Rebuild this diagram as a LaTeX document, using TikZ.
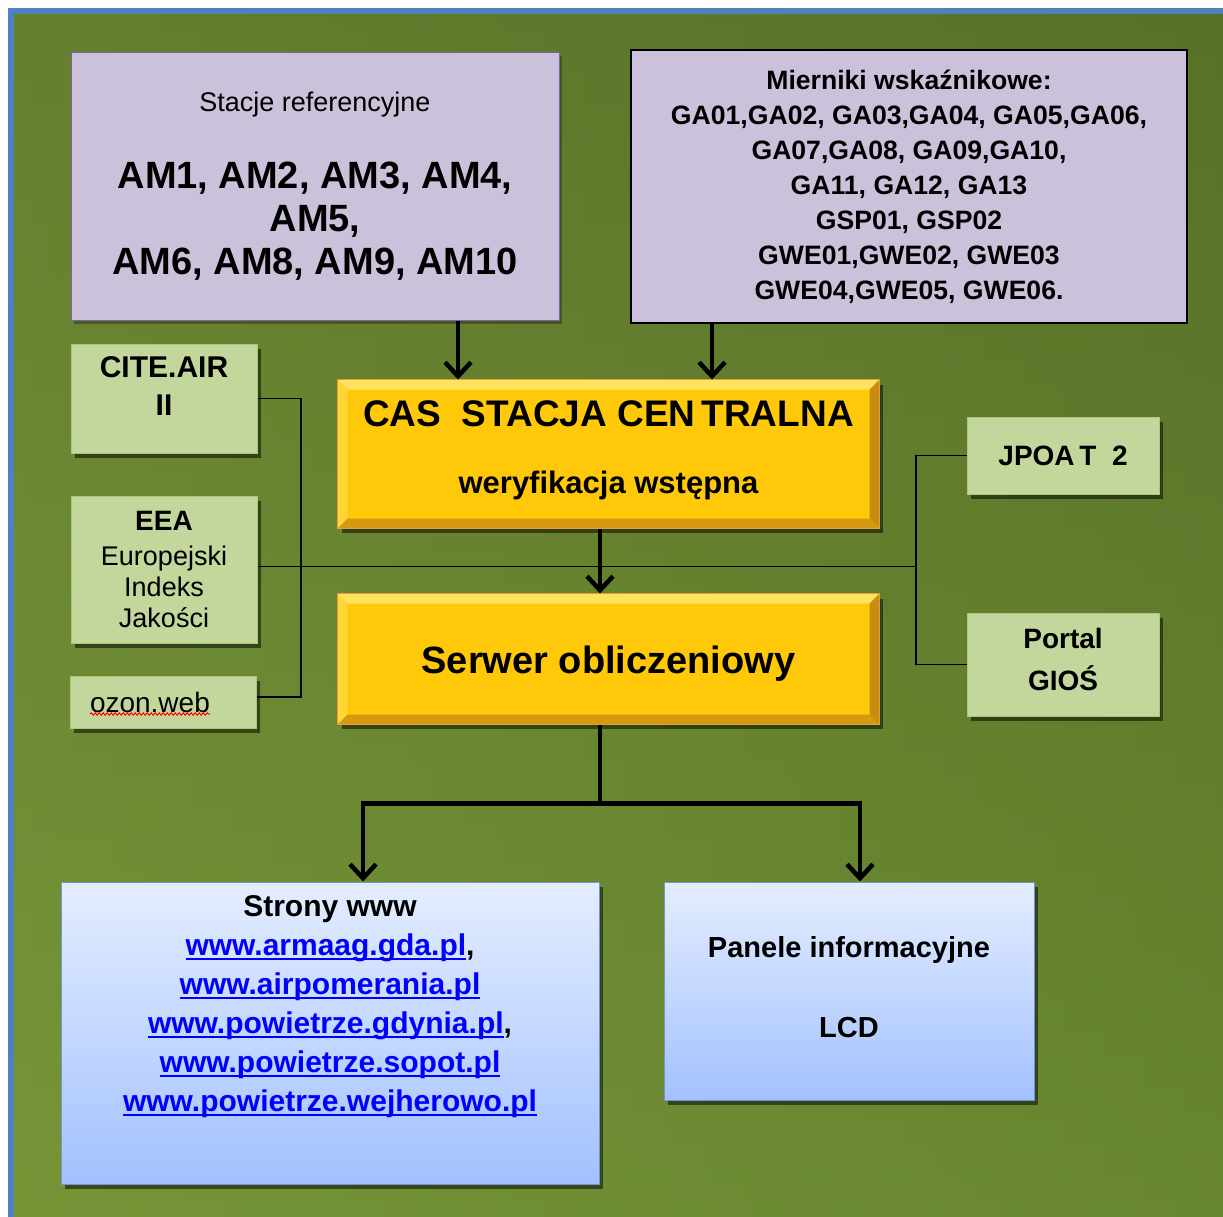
\documentclass[tikz,border=0pt]{standalone}
\usepackage{fontspec}
\setmainfont{Liberation Sans}
\usetikzlibrary{arrows.meta,shadows,decorations.pathmorphing,positioning}

\definecolor{frameblue}{HTML}{4F81BD}
\definecolor{bgleft}{HTML}{72903A}
\definecolor{bgright}{HTML}{55712A}
\definecolor{bgtop}{HTML}{5A7026}
\definecolor{bgbot}{HTML}{7A9C36}
\definecolor{lavender}{HTML}{CCC1DA}
\definecolor{lavline}{HTML}{8064A2}
\definecolor{palegreen}{HTML}{C3D69B}
\definecolor{paleline}{HTML}{ADC67A}
\definecolor{gold}{HTML}{FFC90A}
\definecolor{goldhi}{HTML}{FFE35C}
\definecolor{goldleft}{HTML}{FFD633}
\definecolor{goldlo}{HTML}{D69A12}
\definecolor{goldright}{HTML}{C88C10}
\definecolor{goldline}{HTML}{E0A040}
\definecolor{skytop}{HTML}{E4EDFF}
\definecolor{skybot}{HTML}{A3C1FF}
\definecolor{skyline}{HTML}{7098D0}
\definecolor{linkblue}{HTML}{0000FF}

\newcommand{\weblink}[1]{{\color{linkblue}\setbox0\hbox{#1}\rlap{\rule[-4pt]{\wd0}{2pt}}\box0}}
\newcommand{\bevel}[2][10]{%
  \fill[goldhi] (#2.north west) -- (#2.north east) -- ([shift={(-#1,#1)}]#2.north east) -- ([shift={(#1,#1)}]#2.north west) -- cycle;
  \fill[goldleft] (#2.north west) -- (#2.south west) -- ([shift={(#1,-#1)}]#2.south west) -- ([shift={(#1,#1)}]#2.north west) -- cycle;
  \fill[goldlo] (#2.south west) -- (#2.south east) -- ([shift={(-#1,-#1)}]#2.south east) -- ([shift={(#1,-#1)}]#2.south west) -- cycle;
  \fill[goldright] (#2.north east) -- (#2.south east) -- ([shift={(-#1,-#1)}]#2.south east) -- ([shift={(-#1,#1)}]#2.north east) -- cycle;
  \draw[goldline, line width=1pt] (#2.north west) rectangle (#2.south east);
}

\tikzset{
  box/.style={draw, line width=1pt, inner sep=0pt, align=center},
  lavbox/.style={box, fill=lavender},
  greenbox/.style={box, fill=palegreen, draw=paleline,
    drop shadow={shadow xshift=4pt, shadow yshift=-5pt, opacity=.5, fill=black}},
  goldbox/.style={box, fill=gold, draw=goldline,
    drop shadow={shadow xshift=4pt, shadow yshift=-5pt, opacity=.5, fill=black}},
  skybox/.style={box, top color=skytop, bottom color=skybot, draw=skyline,
    drop shadow={shadow xshift=4pt, shadow yshift=-5pt, opacity=.5, fill=black}},
  flow/.style={line width=4.5pt, -{Straight Barb[length=14pt, width=26pt]}},
  trunk/.style={line width=4.5pt},
  link/.style={line width=1.5pt},
}

\begin{document}
\begin{tikzpicture}[x=1pt, y=-1pt]
% frame and background
\useasboundingbox (0,0) rectangle (1223,1216);
\fill[white] (0,0) rectangle (1223,1216);
\begin{scope}
  \clip (0,0) rectangle (1223,1216);
  \shade[left color=bgleft, right color=bgright] (11,11) rectangle (1240,1240);
  \shade[top color=bgtop, bottom color=bgbot, opacity=.5] (11,11) rectangle (1240,1240);
  \draw[frameblue, line width=6pt] (11,11) rectangle (1240,1240);
\end{scope}

% sources
\node[lavbox, draw=lavline, drop shadow={shadow xshift=3pt, shadow yshift=-4pt, opacity=.3, fill=black},
  minimum width=488pt, minimum height=268pt, font=\fontsize{38}{43}\selectfont\bfseries] (stacje) at (315,186)
  {{\fontsize{27}{32}\selectfont\mdseries Stacje referencyjne}\\[34pt]
   AM1, AM2, AM3, AM4,\\AM5,\\AM6, AM8, AM9, AM10};
\node[lavbox, draw=black, line width=2.5pt, minimum width=556pt, minimum height=273pt,
  font=\fontsize{26.6}{35}\selectfont\bfseries] (mierniki) at (909,186.5)
  {Mierniki wskaźnikowe:\\GA01,GA02, GA03,GA04, GA05,GA06,\\GA07,GA08, GA09,GA10,\\GA11, GA12, GA13\\GSP01, GSP02\\GWE01,GWE02, GWE03\\GWE04,GWE05, GWE06.};

% central part
\node[goldbox, minimum width=541pt, minimum height=148pt, font=\fontsize{31}{36}\selectfont\bfseries] (cas) at (608.5,454)
  {{\fontsize{37}{40}\selectfont CAS\ \ STACJA CEN\,TRALNA}\\[31pt]weryfikacja wstępna\rule[-14pt]{0pt}{14pt}};
\node[goldbox, minimum width=541pt, minimum height=130pt, font=\fontsize{38}{44}\selectfont\bfseries] (serwer) at (608.5,659)
  {\rule{0pt}{36pt}Serwer obliczeniowy};
\bevel{cas}
\bevel{serwer}

% side boxes
\node[greenbox, minimum width=186pt, minimum height=109pt,
  label={[name=citetxt, anchor=north, yshift=-13pt, inner sep=0pt, align=center, font=\fontsize{30}{38}\selectfont\bfseries]north:{CITE.AIR\\II}}] (cite) at (164,398.5) {};
\node[greenbox, minimum width=186pt, minimum height=147pt, font=\fontsize{27}{31}\selectfont] (eea) at (164,569.5)
  {{\fontsize{28}{31}\selectfont\bfseries EEA}\\[4pt]Europejski\\Indeks\\Jakości};
\node[greenbox, minimum height=52pt, text width=146pt, inner xsep=20pt, align=left, font=\fontsize{28}{32}\selectfont] (ozon) at (163,702)
  {ozon.web};
\draw[red, line width=1pt, decorate, decoration={snake, amplitude=1.2pt, segment length=4pt}]
  ([shift={(-73,12)}]ozon.center) -- ([shift={(47,12)}]ozon.center);
\node[greenbox, minimum width=192pt, minimum height=77pt, font=\fontsize{28}{34}\selectfont\bfseries] (jpoat) at (1063,455.5)
  {JPOA\,T\ \ 2};
\node[greenbox, minimum width=192pt, minimum height=103pt, font=\fontsize{28}{42}\selectfont\bfseries] (portal) at (1063,664.5)
  {Portal\\GIOŚ\rule[-10pt]{0pt}{10pt}};

% outputs
\node[skybox, minimum width=538pt, minimum height=302pt,
  label={[name=stronytxt, anchor=north, yshift=-14pt, inner sep=0pt, align=center, font=\fontsize{30}{39}\selectfont\bfseries]north:{Strony www\\\weblink{www.armaag.gda.pl},\\\weblink{www.airpomerania.pl}\\\weblink{www.powietrze.gdynia.pl},\\\weblink{www.powietrze.sopot.pl}\\\weblink{www.powietrze.wejherowo.pl}}}] (strony) at (330,1033) {};
\node[skybox, minimum width=370pt, minimum height=218pt, font=\fontsize{29}{35}\selectfont\bfseries] (panele) at (849,991)
  {Panele informacyjne\\[45pt]LCD\rule[-8pt]{0pt}{8pt}};

% thin links
\coordinate (lbus) at (301,0);
\coordinate (rbus) at (916,0);
\draw[link] (cite.east) -- (cite.east -| lbus) |- ([yshift=5pt]ozon.east);
\draw[link] ([yshift=3pt]eea.east) -- ([yshift=3pt]eea.east -| rbus);
\draw[link] (jpoat.west) -| (rbus |- portal.west) -- (portal.west);

% data flow
\coordinate (stacjeout) at ([xshift=143pt]stacje.south);
\coordinate (miernikiout) at ([xshift=-197pt]mierniki.south);
\coordinate (casout) at ([xshift=-8.5pt]cas.south);
\coordinate (serwerout) at ([xshift=-8.5pt]serwer.south);
\coordinate (split) at ([yshift=-79pt]serwerout);
\draw[flow] (stacjeout) -- (stacjeout |- cas.north);
\draw[flow] (miernikiout) -- (miernikiout |- cas.north);
\draw[flow] (casout) -- (casout |- serwer.north);
\draw[trunk] (serwerout) -- (split);
\draw[flow] (split) -| ([xshift=33pt]strony.north);
\draw[flow] (split) -| ([xshift=11pt]panele.north);
\end{tikzpicture}
\end{document}
